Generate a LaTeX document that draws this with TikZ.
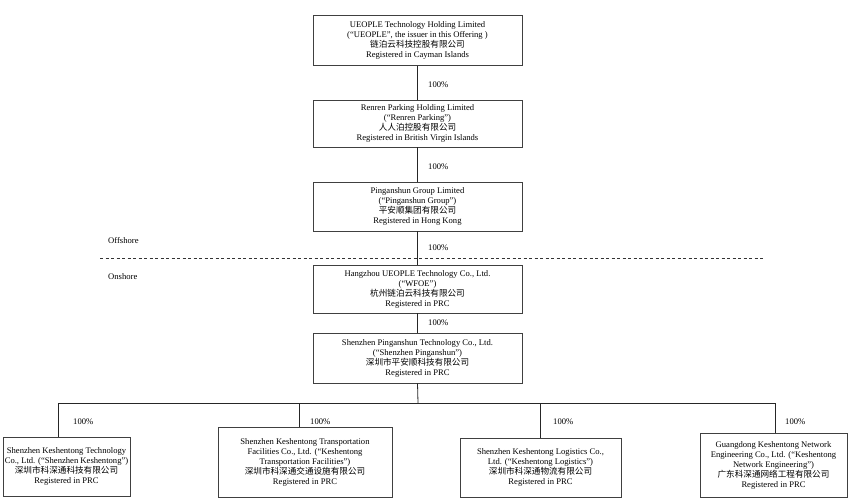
\documentclass[tikz,border=0pt]{standalone}
\usepackage{fontspec}
\setmainfont{Liberation Serif}
\newfontfamily\cjk{Noto Sans CJK SC}
\tikzset{
  every node/.style={font=\fontsize{8.6}{10}\selectfont},
  box/.style={draw=black!75, line width=0.8pt, rectangle, align=center, inner sep=1pt},
  conn/.style={draw=black!85, line width=0.8pt},
  pct/.style={anchor=west, inner sep=0pt},
  side/.style={anchor=west, inner sep=0pt},
  divider/.style={draw=black!80, line width=0.8pt, dash pattern=on 3pt off 2.5pt}
}
\begin{document}
\begin{tikzpicture}[x=1pt,y=-1pt]
\useasboundingbox (0,0) rectangle (850,498);
% main chain
\node[box, minimum width=209pt, minimum height=50pt] (u) at (417.5,40.5)
  {UEOPLE Technology Holding Limited\\(“UEOPLE”, the issuer in this Offering )\\{\cjk 链泊云科技控股有限公司}\\Registered in Cayman Islands};
\node[box, minimum width=209pt, minimum height=47pt] (r) at (417.5,123.5)
  {Renren Parking Holding Limited\\(“Renren Parking”)\\{\cjk 人人泊控股有限公司}\\Registered in British Virgin Islands};
\node[box, minimum width=209pt, minimum height=49pt] (p) at (417.5,206.5)
  {Pinganshun Group Limited\\(“Pinganshun Group”)\\{\cjk 平安顺集团有限公司}\\Registered in Hong Kong};
\node[box, minimum width=209pt, minimum height=48pt] (w) at (417.5,289)
  {Hangzhou UEOPLE Technology Co., Ltd.\\(“WFOE”)\\{\cjk 杭州链泊云科技有限公司}\\Registered in PRC};
\node[box, minimum width=209pt, minimum height=50pt] (s) at (417.5,358)
  {Shenzhen Pinganshun Technology Co., Ltd.\\(“Shenzhen Pinganshun”)\\{\cjk 深圳市平安顺科技有限公司}\\Registered in PRC};
% bottom boxes
\node[box, minimum width=127pt, minimum height=59pt] (a) at (66.5,466.5)
  {Shenzhen Keshentong Technology\\Co., Ltd. (“Shenzhen Keshentong”)\\{\cjk 深圳市科深通科技有限公司}\\Registered in PRC};
\node[box, minimum width=174pt, minimum height=70pt] (b) at (305,462)
  {Shenzhen Keshentong Transportation\\Facilities Co., Ltd. (“Keshentong\\Transportation Facilities”)\\{\cjk 深圳市科深通交通设施有限公司}\\Registered in PRC};
\node[box, minimum width=161pt, minimum height=59pt] (c) at (540.5,467.5)
  {Shenzhen Keshentong Logistics Co.,\\Ltd. (“Keshentong Logistics”)\\{\cjk 深圳市科深通物流有限公司}\\Registered in PRC};
\node[box, minimum width=147pt, minimum height=64pt] (d) at (773.5,465)
  {Guangdong Keshentong Network\\Engineering Co., Ltd. (“Keshentong\\Network Engineering”)\\{\cjk 广东科深通网络工程有限公司}\\Registered in PRC};
% connectors main chain
\draw[conn] (u.south) -- (r.north);
\draw[conn] (r.south) -- (p.north);
\draw[conn] (p.south) -- (w.north);
\draw[conn] (w.south) -- (s.north);
% branch
\coordinate (hub) at (418,403);
\coordinate (ja) at (58,403);
\coordinate (jb) at (299,403);
\coordinate (jc) at (540,403);
\coordinate (jd) at (775,403);
\draw[conn] (s.south) -- (hub);
\draw[conn] (ja) -- (jd);
\draw[conn] (ja) -- (ja |- a.north);
\draw[conn] (jb) -- (jb |- b.north);
\draw[conn] (jc) -- (jc |- c.north);
\draw[conn] (jd) -- (jd |- d.north);
% divider
\coordinate (dl) at (100,258);
\coordinate (dr) at (765,258);
\draw[divider] (dl) -- (dr);
\node[side] (off) at (108,241) {Offshore};
\node[side] (on) at (108,277) {Onshore};
% percentages
\node[pct] (p1) at (428,85) {100\%};
\node[pct] (p2) at (428,167) {100\%};
\node[pct] (p3) at (428,248) {100\%};
\node[pct] (p4) at (428,323) {100\%};
\node[pct] (p5) at (73,422) {100\%};
\node[pct] (p6) at (310,422) {100\%};
\node[pct] (p7) at (553,422) {100\%};
\node[pct] (p8) at (785,422) {100\%};
\end{tikzpicture}
\end{document}
